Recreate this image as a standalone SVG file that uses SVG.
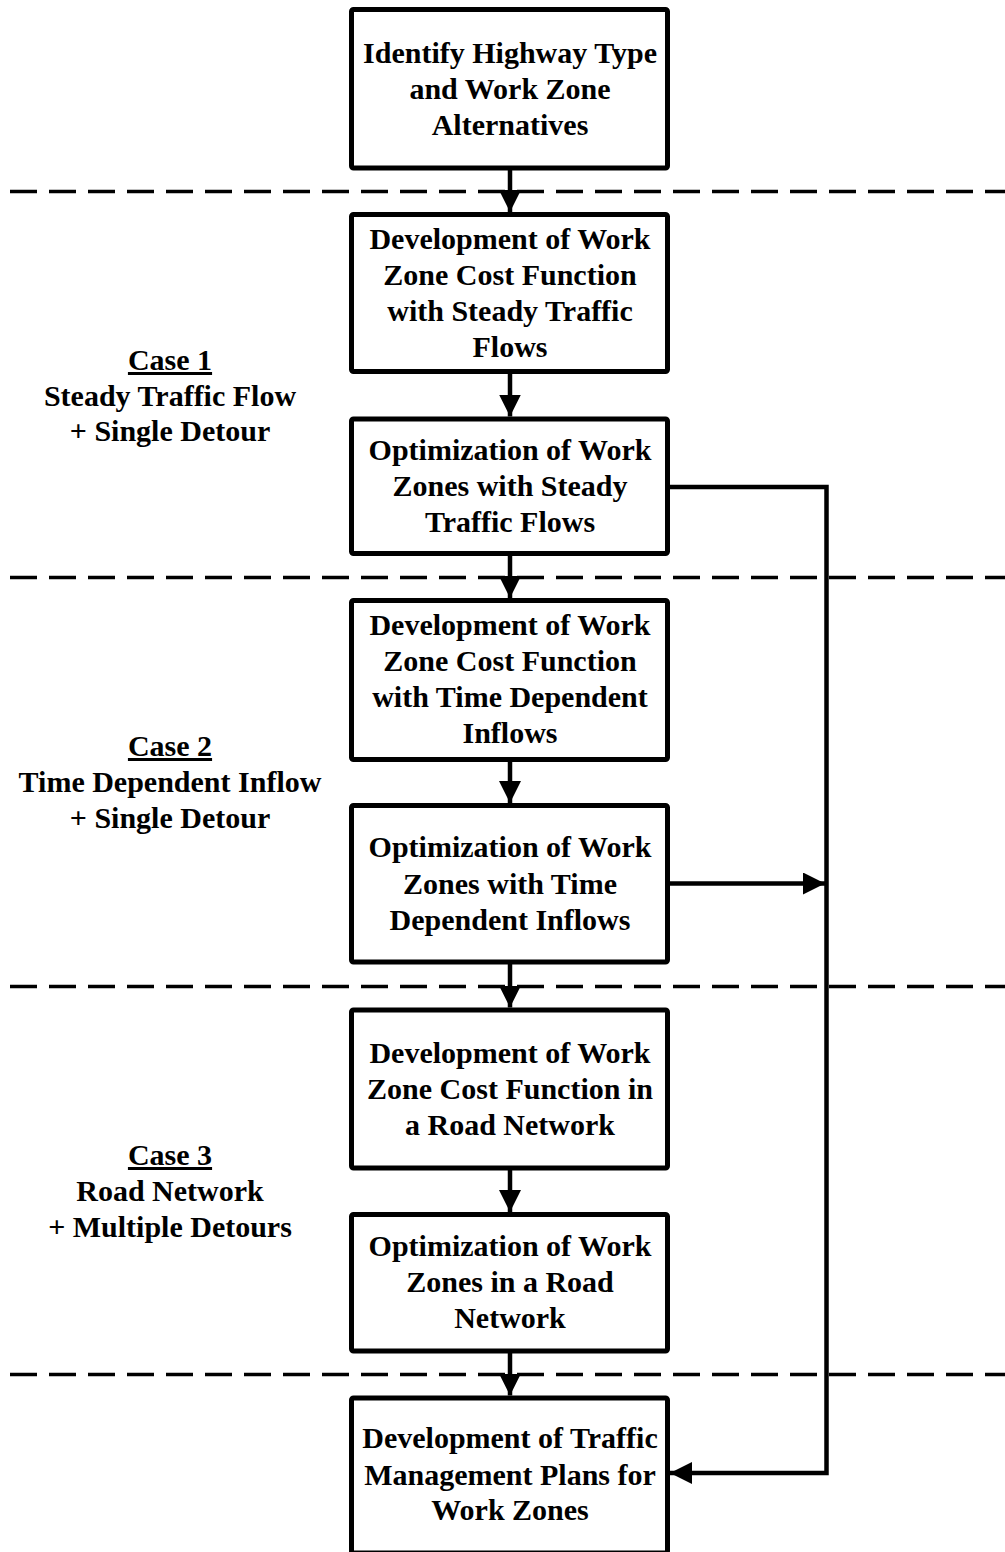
<svg xmlns="http://www.w3.org/2000/svg" width="1005" height="1552" viewBox="0 0 1005 1552">
<style>
.bg{fill:#fff}
.box{fill:#fff;stroke:#000;stroke-width:5}
.t{font-family:"Liberation Serif","Times New Roman",serif;font-weight:bold;font-size:30px;text-anchor:middle;fill:#000}
.dash{stroke:#000;stroke-width:3.5;stroke-dasharray:27 12;fill:none}
.con{stroke:#000;stroke-width:4.5;fill:none;stroke-linejoin:miter}
</style>
<defs>
<marker id="ah" viewBox="0 0 22 22" markerWidth="22" markerHeight="22" refX="22" refY="11" orient="auto" markerUnits="userSpaceOnUse">
<path d="M0,0 L22,11 L0,22 z" fill="#000"/>
</marker>
</defs>
<rect class="bg" x="0" y="0" width="1005" height="1552"/>
<g id="separators">
<line class="dash" x1="10" y1="191.5" x2="1005" y2="191.5"/>
<line class="dash" x1="10" y1="577.5" x2="1005" y2="577.5"/>
<line class="dash" x1="10" y1="986.5" x2="1005" y2="986.5"/>
<line class="dash" x1="10" y1="1374.5" x2="1005" y2="1374.5"/>
</g>
<g id="connectors">
<path class="con" d="M510,168 V212" marker-end="url(#ah)"/>
<path class="con" d="M510,371 V416.5" marker-end="url(#ah)"/>
<path class="con" d="M510,553 V598" marker-end="url(#ah)"/>
<path class="con" d="M510,759 V803" marker-end="url(#ah)"/>
<path class="con" d="M510,962 V1007.5" marker-end="url(#ah)"/>
<path class="con" d="M510,1168 V1212" marker-end="url(#ah)"/>
<path class="con" d="M510,1351 V1395.5" marker-end="url(#ah)"/>
<path class="con" d="M668,487 H826.5 V1473 H670" marker-end="url(#ah)"/>
<path class="con" d="M668,883.5 H825" marker-end="url(#ah)"/>
</g>
<g id="n1">
<rect class="box" x="351.5" y="9.5" width="316" height="158.5" rx="2"/>
<text class="t" x="510" y="63">Identify Highway Type</text>
<text class="t" x="510" y="99">and Work Zone</text>
<text class="t" x="510" y="135">Alternatives</text>
</g>
<g id="n2">
<rect class="box" x="351.5" y="214.5" width="316" height="157" rx="2"/>
<text class="t" x="510" y="249">Development of Work</text>
<text class="t" x="510" y="285">Zone Cost Function</text>
<text class="t" x="510" y="321">with Steady Traffic</text>
<text class="t" x="510" y="357">Flows</text>
</g>
<g id="n3">
<rect class="box" x="351.5" y="419" width="316" height="134.5" rx="2"/>
<text class="t" x="510" y="460">Optimization of Work</text>
<text class="t" x="510" y="496">Zones with Steady</text>
<text class="t" x="510" y="532">Traffic Flows</text>
</g>
<g id="n4">
<rect class="box" x="351.5" y="600.5" width="316" height="159" rx="2"/>
<text class="t" x="510" y="635">Development of Work</text>
<text class="t" x="510" y="671">Zone Cost Function</text>
<text class="t" x="510" y="707">with Time Dependent</text>
<text class="t" x="510" y="743">Inflows</text>
</g>
<g id="n5">
<rect class="box" x="351.5" y="805.5" width="316" height="156.5" rx="2"/>
<text class="t" x="510" y="857">Optimization of Work</text>
<text class="t" x="510" y="894">Zones with Time</text>
<text class="t" x="510" y="930">Dependent Inflows</text>
</g>
<g id="n6">
<rect class="box" x="351.5" y="1010" width="316" height="158" rx="2"/>
<text class="t" x="510" y="1063">Development of Work</text>
<text class="t" x="510" y="1099">Zone Cost Function in</text>
<text class="t" x="510" y="1135">a Road Network</text>
</g>
<g id="n7">
<rect class="box" x="351.5" y="1214.5" width="316" height="136.5" rx="2"/>
<text class="t" x="510" y="1256">Optimization of Work</text>
<text class="t" x="510" y="1292">Zones in a Road</text>
<text class="t" x="510" y="1328">Network</text>
</g>
<g id="n8">
<rect class="box" x="351.5" y="1398" width="316" height="155" rx="2"/>
<text class="t" x="510" y="1448">Development of Traffic</text>
<text class="t" x="510" y="1485">Management Plans for</text>
<text class="t" x="510" y="1520">Work Zones</text>
</g>
<g id="case1">
<text class="t" x="170" y="370" text-decoration="underline">Case 1</text>
<text class="t" x="170" y="406">Steady Traffic Flow</text>
<text class="t" x="170" y="441">+ Single Detour</text>
</g>
<g id="case2">
<text class="t" x="170" y="756" text-decoration="underline">Case 2</text>
<text class="t" x="170" y="792">Time Dependent Inflow</text>
<text class="t" x="170" y="828">+ Single Detour</text>
</g>
<g id="case3">
<text class="t" x="170" y="1165" text-decoration="underline">Case 3</text>
<text class="t" x="170" y="1201">Road Network</text>
<text class="t" x="170" y="1237">+ Multiple Detours</text>
</g>
</svg>
